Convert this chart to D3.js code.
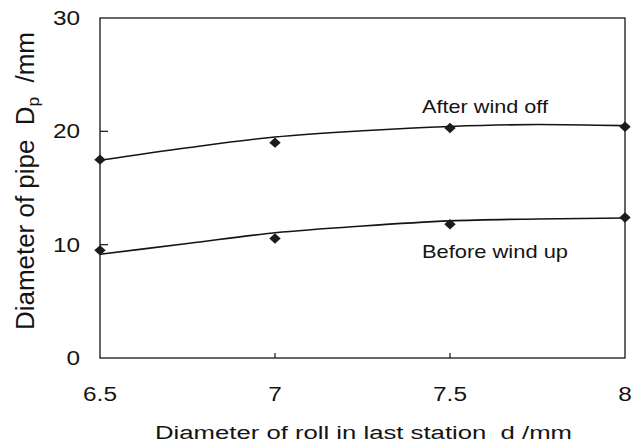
<!DOCTYPE html>
<html>
<head>
<meta charset="utf-8">
<script src="https://cdn.jsdelivr.net/npm/d3@7/dist/d3.min.js"></script>
<style>
  body { margin: 0; background: #fff; }
  svg text { font-family: "Liberation Sans", Arial, sans-serif; fill: #141414; white-space: pre; }
</style>
</head>
<body>
<div id="chart"></div>
<script>
// measured points
var rollDia   = [6.5, 7, 7.5, 8];
var afterOff  = [17.5, 19.0, 20.3, 20.4];
var beforeUp  = [9.5, 10.55, 11.8, 12.4];

// fitted curves
var curveX      = [6.5, 6.75, 7, 7.25, 7.5, 7.75, 8];
var afterCurve  = [17.45, 18.55, 19.5, 20.05, 20.43, 20.6, 20.5];
var beforeCurve = [9.15, 10.1, 11.05, 11.65, 12.1, 12.27, 12.35];

var xTicks = [6.5, 7, 7.5, 8];
var yTicks = [0, 10, 20, 30];

var W = 644, H = 445,
    m = {left: 100, right: 19, top: 18, bottom: 87},
    stretch = 1.25;   /* the scan is wider than it is tall */

var svg = d3.select('#chart').append('svg')
  .attr('width', W)
  .attr('height', H);

var x = d3.scaleLinear().domain([6.5, 8]).range([m.left, W - m.right]);
var y = d3.scaleLinear().domain([0, 30]).range([H - m.bottom, m.top]);

/* frame */
svg.append('rect')
  .attr('x', x(6.5)).attr('y', y(30))
  .attr('width', x(8) - x(6.5))
  .attr('height', y(0) - y(30))
  .attr('fill', 'none')
  .attr('stroke', '#141414')
  .attr('stroke-width', 1.3);

/* inward ticks */
svg.selectAll('.yt').data([10, 20]).enter().append('line')
  .attr('x1', x(6.5)).attr('x2', x(6.5) + 8)
  .attr('y1', function (d) { return y(d); })
  .attr('y2', function (d) { return y(d); })
  .attr('stroke', '#141414').attr('stroke-width', 1.2);

svg.selectAll('.xt').data([7, 7.5]).enter().append('line')
  .attr('x1', function (d) { return x(d); })
  .attr('x2', function (d) { return x(d); })
  .attr('y1', y(0)).attr('y2', y(0) - 5)
  .attr('stroke', '#141414').attr('stroke-width', 1.2);

/* tick labels */
function label(px, py, txt, anchor) {
  svg.append('text')
    .attr('transform', 'translate(' + px + ',' + py + ') scale(' + stretch + ',1)')
    .attr('text-anchor', anchor)
    .attr('font-size', 19.5)
    .text(txt);
}
yTicks.forEach(function (d) { label(80, y(d) + 7, d, 'end'); });
xTicks.forEach(function (d) { label(x(d), 401, d, 'middle'); });

/* axis titles */
svg.append('text')
  .attr('x', 155).attr('y', 439)
  .attr('font-size', 18.8)
  .attr('textLength', 417)
  .attr('lengthAdjust', 'spacingAndGlyphs')
  .text('Diameter of roll in last station  d /mm');

var yl = svg.append('text')
  .attr('transform', 'translate(34,330) rotate(-90) scale(1,1.3)')
  .attr('font-size', 19.5)
  .attr('textLength', 298)
  .attr('lengthAdjust', 'spacingAndGlyphs');
yl.append('tspan').text('Diameter of pipe  D');
yl.append('tspan').attr('font-size', 13).attr('dy', 4).text('p');
yl.append('tspan').attr('dy', -4).text('  /mm');

/* curves */
var line = d3.line()
  .x(function (d) { return x(d[0]); })
  .y(function (d) { return y(d[1]); })
  .curve(d3.curveMonotoneX);

[afterCurve, beforeCurve].forEach(function (c) {
  svg.append('path')
    .datum(d3.zip(curveX, c))
    .attr('d', line)
    .attr('fill', 'none')
    .attr('stroke', '#141414')
    .attr('stroke-width', 1.6);
});

/* markers */
var diamond = d3.symbol().type(d3.symbolSquare).size(54);
[afterOff, beforeUp].forEach(function (s) {
  svg.selectAll(null).data(d3.zip(rollDia, s)).enter().append('path')
    .attr('d', diamond)
    .attr('transform', function (d) {
      return 'translate(' + x(d[0]) + ',' + y(d[1]) + ') scale(1.1,1) rotate(45)';
    })
    .attr('fill', '#1c1c1c');
});

/* series labels */
svg.append('text')
  .attr('x', 422).attr('y', 113)
  .attr('font-size', 18.6)
  .attr('textLength', 126)
  .attr('lengthAdjust', 'spacingAndGlyphs')
  .text('After wind off');

svg.append('text')
  .attr('x', 422).attr('y', 258)
  .attr('font-size', 18.6)
  .attr('textLength', 146)
  .attr('lengthAdjust', 'spacingAndGlyphs')
  .text('Before wind up');
</script>
</body>
</html>
